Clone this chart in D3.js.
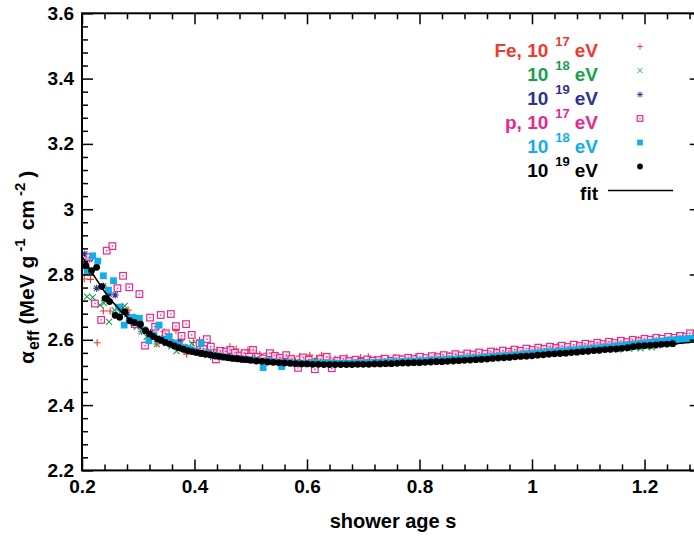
<!DOCTYPE html>
<html><head><meta charset="utf-8">
<script src="https://cdn.jsdelivr.net/npm/d3@7"></script>
<style>
html,body{margin:0;padding:0;background:#fff;}
svg text{font-family:"Liberation Sans",Arial,Helvetica,sans-serif;font-weight:bold;}
</style></head>
<body>
<svg id="chart" width="694" height="536"></svg>
<script>
// ---------- data ----------
const xTicks = [0.2, 0.4, 0.6, 0.8, 1.0, 1.2];
const xTickLabels = ["0.2", "0.4", "0.6", "0.8", "1", "1.2"];
const yTicks = [2.2, 2.4, 2.6, 2.8, 3.0, 3.2, 3.4, 3.6];
const yTickLabels = ["2.2", "2.4", "2.6", "2.8", "3", "3.2", "3.4", "3.6"];
const xMinor = [0.24,0.28,0.32,0.36,0.44,0.48,0.52,0.56,0.64,0.68,0.72,0.76,0.84,0.88,0.92,0.96,1.04,1.08,1.12,1.16,1.24,1.28];
const yMinor = [2.24,2.28,2.32,2.36,2.44,2.48,2.52,2.56,2.64,2.68,2.72,2.76,2.84,2.88,2.92,2.96,3.04,3.08,3.12,3.16,3.24,3.28,3.32,3.36,3.44,3.48,3.52,3.56];

const fe17 = [[0.204,2.786],[0.215,2.785],[0.227,2.591],[0.238,2.688],[0.250,2.688],[0.268,2.695],[0.282,2.691],[0.295,2.655],[0.306,2.625],[0.322,2.612],[0.333,2.587],[0.346,2.625],[0.358,2.600],[0.367,2.628],[0.376,2.599],[0.386,2.556],[0.398,2.592],[0.409,2.599],[0.415,2.574],[0.428,2.572],[0.440,2.569],[0.452,2.566],[0.463,2.579],[0.474,2.572],[0.485,2.560],[0.495,2.569],[0.505,2.566],[0.516,2.555],[0.528,2.559],[0.540,2.559],[0.552,2.545],[0.563,2.548],[0.575,2.544],[0.587,2.550],[0.598,2.541],[0.605,2.553],[0.617,2.543],[0.626,2.553],[0.638,2.545],[0.650,2.541],[0.659,2.543],[0.671,2.545],[0.683,2.540],[0.695,2.546],[0.709,2.548],[0.720,2.540],[0.732,2.544],[0.745,2.541],[0.757,2.546],[0.769,2.543],[0.781,2.545],[0.793,2.547],[0.805,2.544],[0.817,2.548],[0.829,2.553],[0.841,2.549],[0.853,2.552],[0.865,2.556],[0.877,2.553],[0.889,2.557],[0.901,2.560],[0.913,2.557],[0.925,2.561],[0.937,2.565],[0.949,2.563],[0.961,2.567],[0.973,2.570],[0.985,2.568],[0.997,2.572],[1.009,2.574],[1.021,2.573],[1.033,2.577],[1.045,2.580],[1.057,2.578],[1.069,2.582],[1.081,2.585],[1.093,2.584],[1.105,2.588],[1.117,2.590],[1.129,2.589],[1.141,2.593],[1.153,2.595],[1.165,2.594],[1.177,2.598],[1.189,2.600],[1.201,2.599],[1.213,2.602],[1.225,2.604],[1.237,2.603],[1.249,2.607],[1.261,2.609],[1.273,2.608],[1.285,2.612]];

const fe18 = [[0.209,2.732],[0.219,2.730],[0.232,2.706],[0.239,2.712],[0.248,2.655],[0.258,2.690],[0.268,2.684],[0.276,2.704],[0.288,2.671],[0.297,2.640],[0.306,2.625],[0.315,2.610],[0.324,2.615],[0.333,2.587],[0.342,2.598],[0.350,2.590],[0.359,2.580],[0.368,2.565],[0.378,2.572],[0.386,2.566],[0.395,2.589],[0.404,2.560],[0.413,2.557],[0.423,2.553],[0.433,2.548],[0.443,2.552],[0.453,2.546],[0.463,2.549],[0.473,2.544],[0.483,2.545],[0.493,2.540],[0.503,2.542],[0.513,2.538],[0.523,2.540],[0.533,2.535],[0.543,2.536],[0.553,2.532],[0.563,2.534],[0.573,2.531],[0.583,2.533],[0.593,2.529],[0.603,2.532],[0.613,2.528],[0.623,2.535],[0.633,2.529],[0.643,2.531],[0.653,2.528],[0.663,2.530],[0.673,2.527],[0.683,2.532],[0.693,2.528],[0.703,2.531],[0.713,2.529],[0.723,2.533],[0.733,2.530],[0.743,2.534],[0.753,2.532],[0.763,2.535],[0.773,2.533],[0.783,2.537],[0.793,2.535],[0.803,2.538],[0.813,2.536],[0.823,2.540],[0.833,2.538],[0.843,2.542],[0.853,2.540],[0.863,2.544],[0.873,2.541],[0.883,2.545],[0.893,2.543],[0.903,2.547],[0.913,2.545],[0.923,2.549],[0.933,2.548],[0.943,2.552],[0.953,2.550],[0.963,2.554],[0.973,2.553],[0.983,2.556],[0.993,2.555],[1.003,2.559],[1.013,2.558],[1.023,2.562],[1.033,2.560],[1.043,2.564],[1.053,2.563],[1.063,2.566],[1.073,2.565],[1.083,2.568],[1.093,2.567],[1.103,2.570],[1.113,2.566],[1.123,2.571],[1.133,2.569],[1.143,2.573],[1.153,2.570],[1.163,2.575],[1.173,2.572],[1.183,2.577],[1.193,2.574],[1.203,2.579],[1.213,2.577],[1.223,2.583],[1.233,2.586],[1.243,2.590],[1.253,2.593],[1.263,2.596],[1.273,2.598],[1.283,2.601]];

const fe19 = [[0.205,2.863],[0.213,2.847],[0.226,2.758],[0.238,2.765],[0.248,2.740],[0.259,2.737],[0.268,2.700],[0.280,2.678],[0.291,2.651],[0.301,2.648],[0.312,2.630],[0.322,2.622],[0.333,2.640],[0.342,2.605],[0.351,2.610],[0.362,2.590],[0.374,2.594],[0.384,2.577],[0.394,2.570],[0.404,2.566],[0.414,2.562],[0.424,2.559],[0.434,2.556],[0.444,2.554],[0.454,2.550],[0.464,2.549],[0.474,2.546],[0.484,2.545],[0.494,2.542],[0.504,2.541],[0.514,2.540],[0.524,2.538],[0.534,2.537],[0.544,2.535],[0.554,2.535],[0.564,2.533],[0.574,2.533],[0.584,2.531],[0.594,2.532],[0.604,2.530],[0.614,2.531],[0.624,2.529],[0.634,2.530],[0.644,2.528],[0.654,2.530],[0.664,2.528],[0.674,2.530],[0.684,2.529],[0.694,2.531],[0.704,2.530],[0.714,2.532],[0.724,2.531],[0.734,2.533],[0.744,2.532],[0.754,2.534],[0.764,2.533],[0.774,2.535],[0.784,2.535],[0.794,2.537],[0.804,2.536],[0.814,2.539],[0.824,2.538],[0.834,2.541],[0.844,2.540],[0.854,2.543],[0.864,2.542],[0.874,2.545],[0.884,2.545],[0.894,2.548],[0.904,2.547],[0.914,2.550],[0.924,2.550],[0.934,2.553],[0.944,2.553],[0.954,2.556],[0.964,2.556],[0.974,2.559],[0.984,2.559],[0.994,2.562],[1.004,2.562],[1.014,2.565],[1.024,2.565],[1.034,2.568],[1.044,2.568],[1.054,2.571],[1.064,2.571],[1.074,2.574],[1.084,2.574],[1.094,2.577],[1.104,2.577],[1.114,2.580],[1.124,2.580],[1.134,2.583],[1.144,2.583],[1.154,2.586],[1.164,2.586],[1.174,2.589],[1.184,2.589],[1.194,2.592],[1.204,2.592],[1.214,2.595],[1.224,2.595],[1.234,2.598],[1.244,2.598]];

const p17 = [[0.205,2.809],[0.213,2.853],[0.223,2.711],[0.234,2.661],[0.244,2.873],[0.254,2.887],[0.263,2.758],[0.273,2.796],[0.284,2.761],[0.294,2.648],[0.302,2.740],[0.312,2.582],[0.321,2.668],[0.330,2.640],[0.340,2.676],[0.349,2.620],[0.358,2.679],[0.367,2.642],[0.377,2.612],[0.385,2.648],[0.395,2.615],[0.409,2.589],[0.416,2.572],[0.422,2.602],[0.429,2.579],[0.438,2.540],[0.446,2.566],[0.456,2.564],[0.464,2.569],[0.472,2.560],[0.481,2.552],[0.489,2.559],[0.497,2.548],[0.504,2.569],[0.513,2.548],[0.522,2.543],[0.534,2.559],[0.543,2.551],[0.552,2.545],[0.563,2.553],[0.572,2.541],[0.584,2.514],[0.593,2.546],[0.603,2.539],[0.614,2.510],[0.624,2.541],[0.635,2.548],[0.644,2.513],[0.654,2.536],[0.665,2.541],[0.675,2.535],[0.686,2.539],[0.696,2.533],[0.707,2.540],[0.717,2.536],[0.728,2.538],[0.738,2.542],[0.749,2.536],[0.759,2.543],[0.770,2.540],[0.780,2.545],[0.791,2.541],[0.801,2.548],[0.812,2.544],[0.822,2.550],[0.833,2.547],[0.843,2.553],[0.854,2.549],[0.864,2.556],[0.875,2.552],[0.885,2.558],[0.896,2.555],[0.906,2.561],[0.917,2.557],[0.927,2.564],[0.938,2.560],[0.948,2.567],[0.959,2.563],[0.969,2.570],[0.980,2.566],[0.990,2.573],[1.001,2.569],[1.011,2.576],[1.022,2.572],[1.032,2.579],[1.043,2.575],[1.053,2.582],[1.064,2.578],[1.074,2.585],[1.085,2.581],[1.095,2.588],[1.106,2.584],[1.116,2.591],[1.127,2.587],[1.137,2.594],[1.148,2.590],[1.158,2.597],[1.169,2.593],[1.179,2.600],[1.190,2.596],[1.200,2.603],[1.211,2.600],[1.221,2.606],[1.232,2.603],[1.242,2.609],[1.253,2.606],[1.263,2.612],[1.274,2.610],[1.281,2.620],[1.292,2.614]];

const p18 = [[0.209,2.809],[0.219,2.857],[0.228,2.841],[0.238,2.796],[0.247,2.752],[0.256,2.781],[0.265,2.700],[0.275,2.645],[0.284,2.660],[0.291,2.668],[0.302,2.666],[0.310,2.630],[0.319,2.597],[0.328,2.615],[0.337,2.645],[0.346,2.600],[0.355,2.610],[0.364,2.590],[0.373,2.585],[0.382,2.576],[0.391,2.572],[0.400,2.566],[0.412,2.589],[0.420,2.560],[0.430,2.554],[0.440,2.551],[0.450,2.548],[0.460,2.546],[0.470,2.544],[0.480,2.542],[0.490,2.540],[0.500,2.539],[0.510,2.537],[0.522,2.515],[0.530,2.535],[0.540,2.533],[0.555,2.518],[0.560,2.531],[0.570,2.530],[0.580,2.528],[0.590,2.528],[0.600,2.527],[0.61,2.530],[0.62,2.529],[0.63,2.529],[0.64,2.528],[0.65,2.528],[0.66,2.528],[0.67,2.528],[0.68,2.528],[0.69,2.529],[0.70,2.529],[0.71,2.530],[0.72,2.530],[0.73,2.531],[0.74,2.531],[0.75,2.532],[0.76,2.532],[0.77,2.533],[0.78,2.533],[0.79,2.534],[0.80,2.535],[0.81,2.536],[0.82,2.537],[0.83,2.538],[0.84,2.538],[0.85,2.540],[0.86,2.540],[0.87,2.542],[0.88,2.542],[0.89,2.544],[0.90,2.544],[0.91,2.546],[0.92,2.546],[0.93,2.549],[0.94,2.549],[0.95,2.551],[0.96,2.551],[0.97,2.554],[0.98,2.554],[0.99,2.557],[1.00,2.557],[1.01,2.560],[1.02,2.560],[1.03,2.563],[1.04,2.563],[1.05,2.565],[1.06,2.565],[1.07,2.568],[1.08,2.569],[1.09,2.571],[1.10,2.572],[1.11,2.574],[1.12,2.575],[1.13,2.577],[1.14,2.578],[1.15,2.580],[1.16,2.582],[1.17,2.584],[1.18,2.586],[1.19,2.588],[1.20,2.590],[1.21,2.592],[1.22,2.594],[1.23,2.596],[1.24,2.598],[1.25,2.600],[1.26,2.601],[1.27,2.603],[1.28,2.604],[1.29,2.606],[1.30,2.607]];

const p19 = [[0.207,2.827],[0.217,2.812],[0.226,2.822],[0.235,2.763],[0.241,2.727],[0.249,2.717],[0.259,2.675],[0.267,2.669],[0.276,2.686],[0.285,2.658],[0.293,2.653],[0.304,2.648],[0.313,2.628],[0.320,2.618],[0.327,2.610],[0.334,2.603],[0.341,2.598],[0.348,2.592],[0.356,2.587],[0.364,2.581],[0.372,2.576],[0.380,2.571],[0.388,2.567],[0.396,2.564],[0.404,2.561],[0.412,2.558],[0.420,2.556],[0.428,2.554],[0.436,2.551],[0.444,2.549],[0.452,2.547],[0.460,2.545],[0.468,2.543],[0.476,2.542],[0.484,2.540],[0.492,2.539],[0.500,2.537],[0.51,2.535],[0.52,2.534],[0.53,2.532],[0.54,2.531],[0.55,2.530],[0.56,2.529],[0.57,2.528],[0.58,2.527],[0.59,2.526],[0.60,2.526],[0.61,2.525],[0.62,2.525],[0.63,2.524],[0.64,2.524],[0.65,2.524],[0.66,2.524],[0.67,2.524],[0.68,2.524],[0.69,2.525],[0.70,2.525],[0.71,2.525],[0.72,2.526],[0.73,2.526],[0.74,2.527],[0.75,2.527],[0.76,2.528],[0.77,2.529],[0.78,2.529],[0.79,2.530],[0.80,2.530],[0.81,2.531],[0.82,2.532],[0.83,2.533],[0.84,2.533],[0.85,2.534],[0.86,2.535],[0.87,2.536],[0.88,2.537],[0.89,2.538],[0.90,2.539],[0.91,2.540],[0.92,2.541],[0.93,2.543],[0.94,2.544],[0.95,2.545],[0.96,2.546],[0.97,2.548],[0.98,2.549],[0.99,2.550],[1.00,2.551],[1.01,2.553],[1.02,2.554],[1.03,2.556],[1.04,2.557],[1.05,2.558],[1.06,2.559],[1.07,2.561],[1.08,2.562],[1.09,2.564],[1.10,2.565],[1.11,2.567],[1.12,2.568],[1.13,2.570],[1.14,2.571],[1.15,2.572],[1.16,2.574],[1.17,2.576],[1.18,2.579],[1.19,2.581],[1.20,2.582],[1.21,2.583],[1.22,2.584],[1.23,2.586],[1.24,2.587],[1.25,2.588]];

const fitAge = [0.20,0.22,0.24,0.26,0.28,0.30,0.32,0.34,0.36,0.38,0.40,0.42,0.44,0.46,0.48,0.50,0.55,0.60,0.65,0.70,0.75,0.80,0.85,0.90,0.95,1.00,1.05,1.10,1.15,1.20,1.25,1.30];
const fitAlpha = [2.855,2.800,2.748,2.705,2.670,2.642,2.618,2.599,2.584,2.572,2.563,2.556,2.550,2.545,2.541,2.537,2.530,2.526,2.524,2.525,2.527,2.530,2.534,2.539,2.545,2.551,2.558,2.565,2.572,2.579,2.587,2.595];

const seriesNames = ["Fe17","Fe18","Fe19","p17","p18","p19"];
const seriesColors = ["#ec3a2f","#17a04b","#2e3192","#e8288f","#11aee9","#000000"];
const legendPrefix = ["Fe, 10","10","10","p, 10","10","10"];
const legendExp = ["17","18","19","17","18","19"];

// ---------- layout ----------
const svg = d3.select("#chart");
const x = d3.scaleLinear().domain([0.2, 1.3]).range([82, 700.75]);
const y = d3.scaleLinear().domain([2.2, 3.6]).range([470.4, 13.3]);

// markers
const markerPath = {
  Fe17: "M-3.5,0H3.5M0,-3.5V3.5",
  Fe18: "M-3,-3L3,3M-3,3L3,-3",
  Fe19: "M-3.5,0H3.5M0,-3.5V3.5M-2.6,-2.6L2.6,2.6M-2.6,2.6L2.6,-2.6"
};
function drawMarker(g, name, color, size) {
  const k = size || 1;
  if (markerPath[name]) {
    g.append("path").attr("d", markerPath[name]).attr("transform", `scale(${k})`)
      .attr("stroke", color).attr("stroke-width", 1.1).attr("fill", "none");
  } else if (name === "p17") {
    g.append("rect").attr("x", -3.3*k).attr("y", -3.3*k).attr("width", 6.6*k).attr("height", 6.6*k)
      .attr("fill", "#fff").attr("fill-opacity", 0.6).attr("stroke", color).attr("stroke-width", 1.2);
    g.append("rect").attr("x", -0.7).attr("y", -0.7).attr("width", 1.4).attr("height", 1.4).attr("fill", color);
  } else if (name === "p18") {
    g.append("rect").attr("x", -3.4*k).attr("y", -3.4*k).attr("width", 6.8*k).attr("height", 6.8*k).attr("fill", color);
  } else {
    g.append("circle").attr("r", 3.4*k).attr("fill", color);
  }
}

const allSeries = [fe17, fe18, fe19, p17, p18, p19];
const plot = svg.append("g");
allSeries.forEach((data, i) => {
  const name = seriesNames[i], color = seriesColors[i];
  plot.append("g").selectAll("g").data(data).join("g")
    .attr("transform", d => `translate(${x(d[0])},${y(d[1])})`)
    .each(function () { drawMarker(d3.select(this), name, color, 1); });
});

// fit line
const fitPts = fitAge.map((a, i) => [a, fitAlpha[i]]);
svg.append("path").datum(fitPts)
  .attr("d", d3.line().x(d => x(d[0])).y(d => y(d[1])).curve(d3.curveMonotoneX))
  .attr("fill", "none").attr("stroke", "#000").attr("stroke-width", 1.6);

// axes
const axisStyle = g => {
  g.select(".domain").remove();
  g.selectAll(".tick line").attr("stroke", "#000").attr("stroke-width", 1.5);
  g.selectAll(".tick text").attr("fill", "#000").style("font-size", "19px").style("font-weight", "bold");
};
svg.append("g").attr("transform", `translate(0,${y(2.2)})`)
  .call(d3.axisBottom(x).tickValues(xTicks).tickFormat((d, i) => xTickLabels[i]).tickSize(-11).tickPadding(9))
  .call(axisStyle);
svg.append("g").attr("transform", `translate(0,${y(2.2)})`)
  .call(d3.axisBottom(x).tickValues(xMinor).tickFormat("").tickSize(-6)).call(axisStyle);
svg.append("g").attr("transform", `translate(0,${y(3.6)})`)
  .call(d3.axisTop(x).tickValues(xTicks).tickFormat("").tickSize(-11)).call(axisStyle);
svg.append("g").attr("transform", `translate(0,${y(3.6)})`)
  .call(d3.axisTop(x).tickValues(xMinor).tickFormat("").tickSize(-6)).call(axisStyle);
svg.append("g").attr("transform", `translate(${x(0.2)},0)`)
  .call(d3.axisLeft(y).tickValues(yTicks).tickFormat((d, i) => yTickLabels[i]).tickSize(-11).tickPadding(8))
  .call(axisStyle);
svg.append("g").attr("transform", `translate(${x(0.2)},0)`)
  .call(d3.axisLeft(y).tickValues(yMinor).tickFormat("").tickSize(-6)).call(axisStyle);
svg.append("g").attr("transform", `translate(${x(1.3)},0)`)
  .call(d3.axisRight(y).tickValues(yTicks).tickFormat("").tickSize(-11)).call(axisStyle);
svg.append("g").attr("transform", `translate(${x(1.3)},0)`)
  .call(d3.axisRight(y).tickValues(yMinor).tickFormat("").tickSize(-6)).call(axisStyle);

svg.append("rect").attr("x", x(0.2)).attr("y", y(3.6))
  .attr("width", x(1.3) - x(0.2)).attr("height", y(2.2) - y(3.6))
  .attr("fill", "none").attr("stroke", "#000").attr("stroke-width", 2);

// axis titles
svg.append("text").attr("x", 393).attr("y", 528).attr("text-anchor", "middle")
  .style("font-size", "20px").text("shower age s");

const yl = svg.append("text").attr("transform", "translate(34,364) rotate(-90)")
  .attr("text-anchor", "start").style("font-size", "21px");
yl.append("tspan").text("α");
yl.append("tspan").attr("dy", 5).attr("dx", 1).style("font-size", "16px").text("eff");
yl.append("tspan").attr("dy", -5).attr("dx", 6).text("(MeV g");
yl.append("tspan").attr("dy", -9).attr("dx", 4).style("font-size", "15px").text("-1");
yl.append("tspan").attr("dy", 9).attr("dx", 8).text("cm");
yl.append("tspan").attr("dy", -9).attr("dx", 4).style("font-size", "15px").text("-2");
yl.append("tspan").attr("dy", 9).attr("dx", 5).text(")");

// legend
const rowBase = [57, 81, 105, 129, 153, 177];
const legend = svg.append("g");
seriesNames.forEach((name, i) => {
  const t = legend.append("text").attr("x", 598).attr("y", rowBase[i])
    .attr("text-anchor", "end").attr("fill", seriesColors[i]).style("font-size", "19px");
  t.append("tspan").text(legendPrefix[i]);
  t.append("tspan").attr("dx", 7).attr("dy", -11).style("font-size", "13px").text(legendExp[i]);
  t.append("tspan").attr("dx", 5).attr("dy", 11).text("eV");
  const g = legend.append("g").attr("transform", `translate(640,${rowBase[i] - 10.5})`);
  drawMarker(g, name, seriesColors[i], 0.85);
});
legend.append("text").attr("x", 598).attr("y", 200).attr("text-anchor", "end")
  .style("font-size", "19px").text("fit");
legend.append("line").attr("x1", 608).attr("x2", 673).attr("y1", 190.5).attr("y2", 190.5)
  .attr("stroke", "#000").attr("stroke-width", 1.5);
</script>
</body></html>
